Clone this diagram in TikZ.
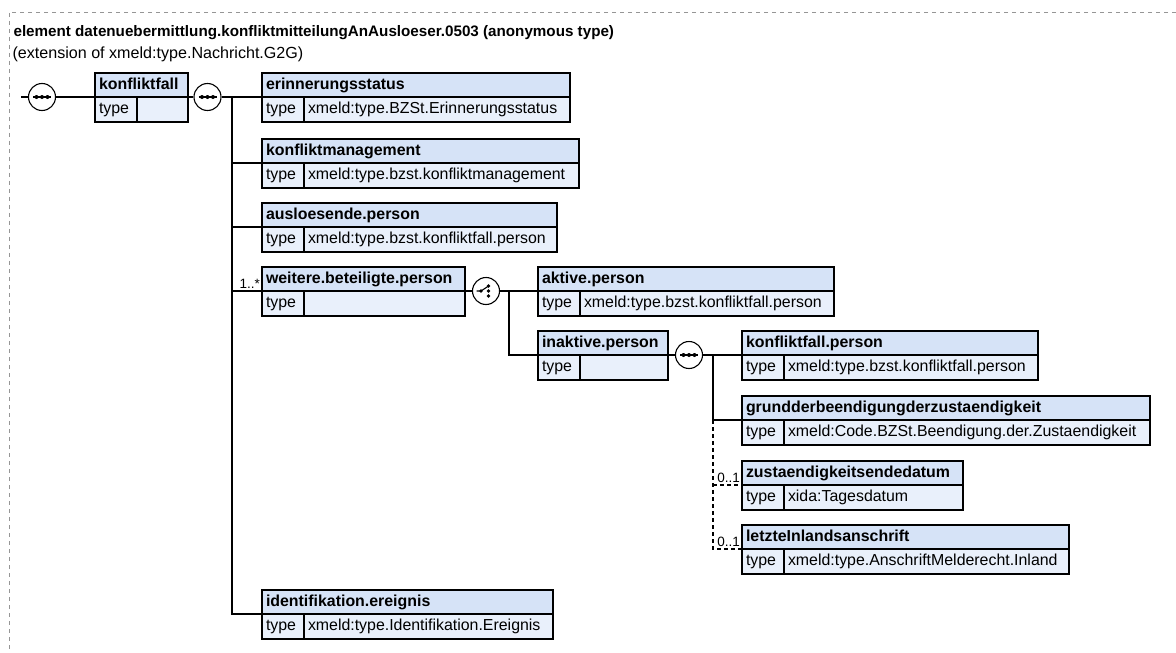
\documentclass[tikz,border=0pt]{standalone}
\usepackage{fontspec}
\setmainfont{Liberation Sans}
\usetikzlibrary{positioning}

\definecolor{headfill}{RGB}{214,227,247}
\definecolor{typefill}{RGB}{233,240,251}
\definecolor{framegray}{RGB}{150,150,150}

\newcommand\boxfont{\fontsize{15.9}{18}\selectfont}

\tikzset{
  elhead/.style={draw, fill=headfill, anchor=north west, outer sep=0pt, font=\boxfont\bfseries,
    minimum height=24pt, inner xsep=4pt, inner ysep=0pt, text height=11.5pt, text depth=3.5pt, align=left},
  eltype/.style={draw, fill=typefill, anchor=north west, outer sep=0pt, font=\boxfont,
    minimum height=25pt, text width=34pt, inner xsep=4pt, inner ysep=0pt, text height=11.5pt, text depth=3.5pt, align=left},
  compos/.style={circle, draw, fill=white, minimum size=27pt, inner sep=0pt},
  mult/.style={font=\fontsize{13.5}{14}\selectfont, inner sep=0pt, anchor=base east},
  optline/.style={dash pattern=on 4pt off 3pt},
}

% element box: name, x, y, width, title, type
\newcommand\elembox[6]{%
  \pgfmathsetmacro\headw{#4-8}%
  \pgfmathsetmacro\valw{#4-42-8}%
  \node[elhead, text width=\headw pt] (#1) at (#2,#3) {#5};
  \node[eltype] (#1-type) at (#1.south west) {type};
  \node[eltype, text width=\valw pt] (#1-val) at (#1-type.north east) {#6};
}

% sequence and choice marks inside a compositor
\newcommand\seqmark[1]{%
  \draw ([xshift=-9pt]#1.center) -- ([xshift=9pt]#1.center);
  \foreach \dx in {-5.5,0,5.5} \fill ([xshift=\dx pt]#1.center) circle (2);
}
\newcommand\choicemark[1]{%
  \draw ([shift={(-9.5,0)}]#1.center) -- ([shift={(-5,0)}]#1.center) -- ([shift={(2.5,-5)}]#1.center);
  \foreach \p in {(-5,0),(2.5,-5),(2.5,0),(2.5,5)} \fill ([shift={\p}]#1.center) circle (1.9);
}

\begin{document}
\begin{tikzpicture}[x=1pt, y=-1pt, line width=1.1pt]
\useasboundingbox (0,0) rectangle (1176,653);

% frame and heading
\draw[framegray, line width=0.8pt, dash pattern=on 4pt off 4pt] (1176,12) -| (9,653);
\node[anchor=base west, inner sep=0pt, font=\fontsize{15.2}{16}\selectfont\bfseries] (title) at (13,36)
  {element datenuebermittlung.konfliktmitteilungAnAusloeser.0503 (anonymous type)};
\node[anchor=base west, inner sep=0pt, font=\fontsize{16.1}{16}\selectfont] (subtitle) at (12,58)
  {(extension of xmeld:type.Nachricht.G2G)};

% boxes
\elembox{konfliktfall}{95}{73}{93}{konfliktfall}{}
\elembox{erinn}{262}{73}{308}{erinnerungsstatus}{xmeld:type.BZSt.Erinnerungsstatus}
\elembox{kmgmt}{262}{139}{317}{konfliktmanagement}{xmeld:type.bzst.konfliktmanagement}
\elembox{ausl}{262}{203}{295}{ausloesende.person}{xmeld:type.bzst.konfliktfall.person}
\elembox{weitere}{262}{267}{203}{weitere.beteiligte.person}{}
\elembox{aktive}{538}{267}{296}{aktive.person}{xmeld:type.bzst.konfliktfall.person}
\elembox{inaktive}{538}{331}{130}{inaktive.person}{}
\elembox{kfperson}{742}{331}{296}{konfliktfall.person}{xmeld:type.bzst.konfliktfall.person}
\elembox{grund}{742}{396}{408}{grundderbeendigungderzustaendigkeit}{xmeld:Code.BZSt.Beendigung.der.Zustaendigkeit}
\elembox{zust}{742}{461}{221}{zustaendigkeitsendedatum}{xida:Tagesdatum}
\elembox{letzte}{742}{525}{327}{letzteInlandsanschrift}{xmeld:type.AnschriftMelderecht.Inland}
\elembox{ident}{262}{590}{291}{identifikation.ereignis}{xmeld:type.Identifikation.Ereignis}

% compositors
\node[compos] (seq1) at (42,97) {};
\node[compos] (seq2) at (207.5,97) {};
\node[compos] (choice) at (486,291) {};
\node[compos] (seq3) at (689,355) {};
\seqmark{seq1}
\seqmark{seq2}
\choicemark{choice}
\seqmark{seq3}

% connectors
\coordinate (start) at (21,97);
\coordinate (spineA) at (232,97);
\coordinate (spineB) at (509,291);
\coordinate (spineC) at (713,355);

\draw (start) -- (seq1) -- (konfliktfall.south west);
\draw (konfliktfall.south east) -- (seq2);
\draw (seq2) -- (spineA) |- (ident.south west);
\foreach \b in {erinn,kmgmt,ausl,weitere}
  \draw (spineA |- \b.south west) -- (\b.south west);
\node[mult] at ([shift={(-1.5,-3)}]weitere.south west) {1..*};

\draw (weitere.south east) -- (choice);
\draw (choice) -- (spineB) |- (inaktive.south west);
\draw (spineB) -- (aktive.south west);

\draw (inaktive.south east) -- (seq3);
\draw (seq3) -- (spineC) |- (grund.south west);
\draw (spineC) -- (kfperson.south west);
\draw[optline] (spineC |- grund.south west) |- (letzte.south west);
\draw[optline] (spineC |- zust.south west) -- (zust.south west);
\node[mult] at ([shift={(-1.5,-3)}]zust.south west) {0..1};
\node[mult] at ([shift={(-1.5,-3)}]letzte.south west) {0..1};
\end{tikzpicture}
\end{document}
